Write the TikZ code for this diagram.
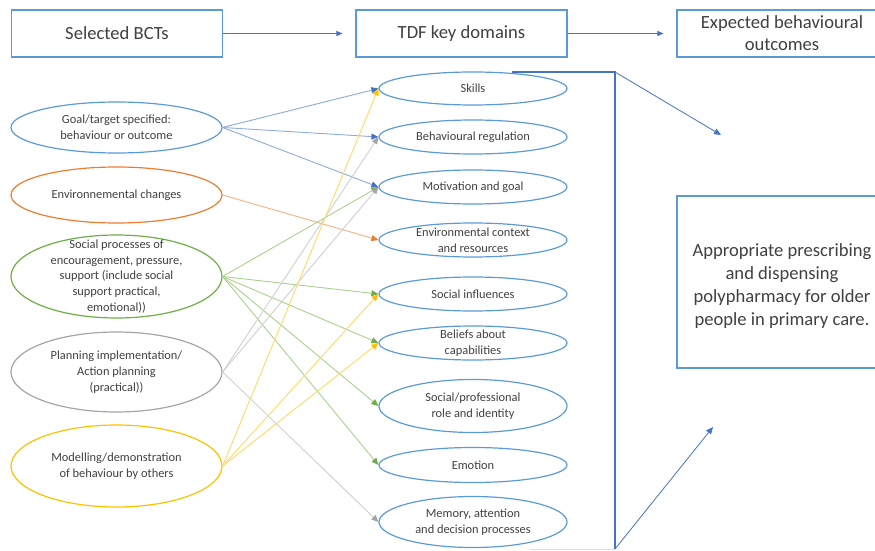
\documentclass[tikz,border=0pt]{standalone}
\usepackage{fontspec}
\setmainfont{Carlito}
\usetikzlibrary{shapes.geometric,arrows.meta}

\definecolor{txtgray}{HTML}{404040}
\definecolor{bctblue}{HTML}{5B9BD5}
\definecolor{bctorange}{HTML}{ED7D31}
\definecolor{bctgreen}{HTML}{70AD47}
\definecolor{bctgray}{HTML}{A5A5A5}
\definecolor{bctyellow}{HTML}{FFC000}
\definecolor{tipblue}{HTML}{4472C4}
\definecolor{lineblue}{HTML}{8FAADC}
\definecolor{lineorange}{HTML}{F4B183}
\definecolor{linegreen}{HTML}{A9D18E}
\definecolor{linegray}{HTML}{D0CECE}
\definecolor{lineyellow}{HTML}{FFD966}

\tikzset{
  headbox/.style={draw=bctblue, line width=1.1pt, minimum width=211pt, minimum height=47pt,
    inner sep=0pt, align=center, text=txtgray, font=\fontsize{18.6}{22}\selectfont},
  bct/.style={ellipse, draw, line width=1.2pt, minimum width=211pt, inner sep=0pt},
  tdf/.style={ellipse, draw=bctblue, line width=1.2pt, minimum width=188pt, inner sep=0pt},
  every label/.style={align=center, text=txtgray, font=\fontsize{12.4}{15.8}\selectfont},
  link/.style 2 args={draw=#1, line width=0.9pt, -{Triangle[length=7pt,width=6pt,color=#2]}},
  headlink/.style={draw=tipblue, line width=0.9pt, shorten >=13pt, -{Triangle[length=6pt,width=5pt]}},
}

\begin{document}
\begin{tikzpicture}[x=1pt,y=1pt]
\clip (0,0) rectangle (875,550);
% Heading boxes
\node[headbox] (bcts) at (117,516.5) {Selected BCTs};
\node[headbox] (tdfs) at (461.5,516.5) {TDF key domains};
\node[headbox, minimum width=210pt] (outcomes) at (782,516.5) {Expected behavioural\\outcomes};
\draw[headlink] (bcts.east) -- (tdfs.west);
\draw[headlink] (tdfs.east) -- (outcomes.west);
% Selected BCTs
\node[bct, draw=bctblue, minimum height=51pt] (goal) at (116.5,422.5)
  [label={center:Goal/target specified:\\behaviour or outcome}] {};
\node[bct, draw=bctorange, minimum height=56pt] (envchange) at (116.5,355)
  [label={center:Environnemental changes}] {};
\node[bct, draw=bctgreen, minimum height=83pt] (social) at (116.5,273.5)
  [label={center:Social processes of\\encouragement, pressure,\\support (include social\\support practical,\\emotional))}] {};
\node[bct, draw=bctgray, minimum height=80pt] (planning) at (116.5,178)
  [label={center:Planning implementation/\\Action planning\\(practical))}] {};
\node[bct, draw=bctyellow, minimum height=82pt] (modelling) at (116.5,84)
  [label={center:Modelling/demonstration\\of behaviour by others}] {};
% TDF key domains
\node[tdf, minimum height=33pt] (skills) at (473,461.5) [label={center:Skills}] {};
\node[tdf, minimum height=34pt] (behreg) at (473,413) [label={center:Behavioural regulation}] {};
\node[tdf, minimum height=34pt] (motivation) at (473,363) [label={center:Motivation and goal}] {};
\node[tdf, minimum height=34pt] (envcontext) at (473,310) [label={center:Environmental context\\and resources}] {};
\node[tdf, minimum height=34pt] (socinf) at (473,256) [label={center:Social influences}] {};
\node[tdf, minimum height=34pt] (beliefs) at (473,207) [label={center:Beliefs about\\capabilities}] {};
\node[tdf, minimum height=53pt] (role) at (473,144) [label={center:Social/professional\\role and identity}] {};
\node[tdf, minimum height=35pt] (emotion) at (473,85) [label={center:Emotion}] {};
\node[tdf, minimum height=51pt] (memory) at (473,28) [label={center:Memory, attention\\and decision processes}] {};
% Links from BCTs to domains
\draw[link={lineblue}{tipblue}] (goal.east) -- (skills.west);
\draw[link={lineblue}{tipblue}] (goal.east) -- (behreg.west);
\draw[link={lineblue}{tipblue}] (goal.east) -- (motivation.west);
\draw[link={lineorange}{bctorange}] (envchange.east) -- (envcontext.west);
\foreach \dom in {motivation,socinf,beliefs,role,emotion}
  \draw[link={linegreen}{bctgreen}] (social.east) -- (\dom.west);
\foreach \dom in {behreg,motivation,memory}
  \draw[link={linegray}{bctgray}] (planning.east) -- (\dom.west);
\foreach \dom in {skills,socinf,beliefs}
  \draw[link={lineyellow}{bctyellow}] (modelling.east) -- (\dom.west);
% Bracket and outcome
\coordinate (brtl) at (512,478);
\coordinate (brtr) at (615,478);
\coordinate (brbr) at (615,1);
\coordinate (brbl) at (530,1);
\coordinate (uptip) at (721,415);
\coordinate (lowtip) at (713,123);
\draw[tipblue, line width=1.3pt] (brtl) -- (brtr) -- (brbr);
\draw[gray!25, line width=0.8pt] (brbl) -- (brbr);
\draw[tipblue, line width=0.8pt, -{Triangle[length=7pt,width=6pt]}] (brtr) -- (uptip);
\draw[tipblue, line width=0.8pt, -{Triangle[length=7pt,width=6pt]}] (brbr) -- (lowtip);
\node[headbox, minimum width=210pt, minimum height=172pt] (target) at (782,268)
  [label={[yshift=-4pt, font=\fontsize{18.6}{23}\selectfont]center:Appropriate prescribing\\and dispensing\\polypharmacy for older\\people in primary care.}] {};
\end{tikzpicture}
\end{document}
